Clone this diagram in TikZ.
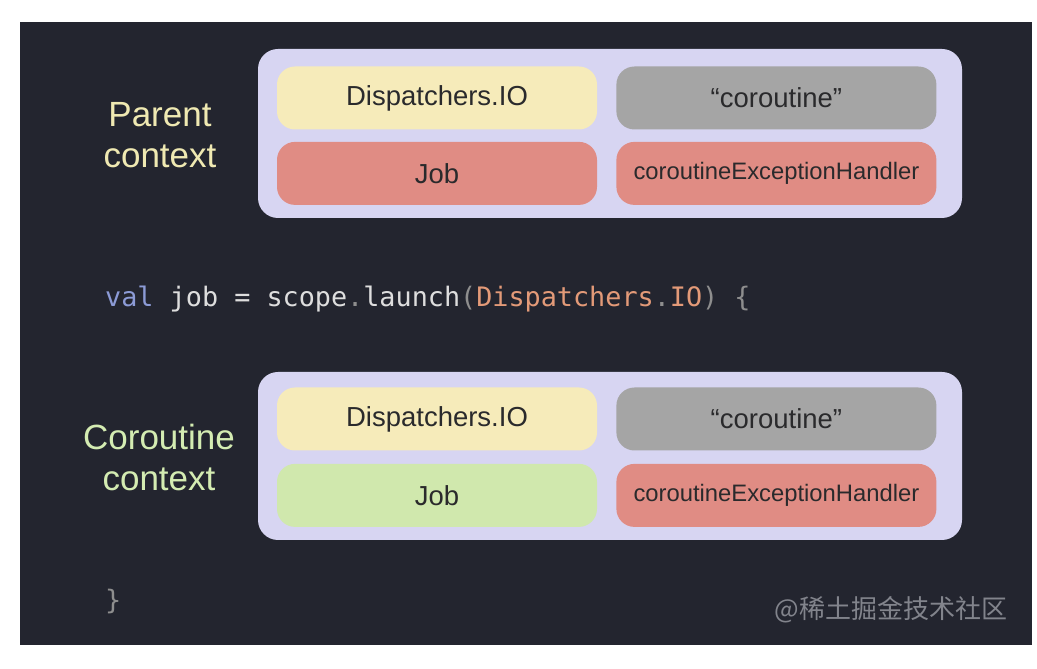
\documentclass[tikz,border=0pt]{standalone}
\usepackage{fontspec}
\setmainfont{Liberation Sans}
\setmonofont{DejaVu Sans Mono}
\newfontfamily\cjk{Noto Sans CJK SC}
\usepackage{xcolor}
\usetikzlibrary{positioning}
\definecolor{slidebg}{HTML}{23252F}
\definecolor{ctxback}{HTML}{D7D5F2}
\definecolor{ioyellow}{HTML}{F6EBBA}
\definecolor{namegray}{HTML}{A5A5A5}
\definecolor{jobred}{HTML}{E08C84}
\definecolor{jobgreen}{HTML}{D0E8AD}
\definecolor{boxtext}{HTML}{2A2A2C}
\definecolor{parentfg}{HTML}{EFE9B2}
\definecolor{childfg}{HTML}{D4ECB2}
\definecolor{kwblue}{HTML}{8C9BD6}
\definecolor{codefg}{HTML}{DEDEDE}
\definecolor{punct}{HTML}{8E8E8E}
\definecolor{argorange}{HTML}{E39A78}
\definecolor{markgray}{HTML}{82848C}

\begin{document}
\begin{tikzpicture}[
    x=1pt, y=1pt,
    ctxbox/.style={fill=ctxback, rounded corners=20pt, minimum width=704pt, minimum height=169pt, inner sep=0pt},
    slot/.style={rounded corners=18pt, minimum width=320pt, minimum height=63pt, inner sep=0pt, text=boxtext, font=\fontsize{27.5}{30}\selectfont},
    smallslot/.style={slot, font=\fontsize{23.8}{28}\selectfont},
    ctxlabel/.style={align=center, font=\fontsize{35}{41}\selectfont},
    code/.style={anchor=base west, inner sep=0pt, text=codefg, font=\ttfamily\fontsize{26.8}{32}\selectfont}
]

% Background
\path[use as bounding box, fill=white] (0,0) rectangle (1037,669);
\fill[slidebg] (20,24) rectangle (1032,647);

% Parent context
\node[ctxlabel, text=parentfg] (parentlbl) at (160,534) {Parent\\context};
\node[ctxbox] (parentctx) at (610,535.5) {};
\node[slot, fill=ioyellow] (pio) at (437,571) {Dispatchers.IO};
\node[slot, fill=namegray, right=19pt of pio] (pname) {“coroutine”};
\node[slot, fill=jobred, below=12pt of pio] (pjob) {Job};
\node[smallslot, fill=jobred, below=12pt of pname] (phandler) {coroutineExceptionHandler};

% Launch call
\node[code] (launch) at (105,362) {\textcolor{kwblue}{val} job = scope\textcolor{punct}{.}launch\textcolor{punct}{(}\textcolor{argorange}{Dispatchers}\textcolor{punct}{.}\textcolor{argorange}{IO}\textcolor{punct}{) \{}};

% Coroutine context
\node[ctxlabel, text=childfg] (childlbl) at (159,212) {Coroutine\\context};
\node[ctxbox, minimum height=168pt] (childctx) at (610,213) {};
\node[slot, fill=ioyellow] (cio) at (437,250) {Dispatchers.IO};
\node[slot, fill=namegray, right=19pt of cio] (cname) {“coroutine”};
\node[slot, fill=jobgreen, below=13pt of cio] (cjob) {Job};
\node[smallslot, fill=jobred, below=13pt of cname] (chandler) {coroutineExceptionHandler};

% Closing brace and watermark
\node[code, text=punct] (closing) at (105,59) {\}};
\node[text=markgray, font=\cjk\fontsize{26}{30}\selectfont] (mark) at (891,59) {@稀土掘金技术社区};

\end{tikzpicture}
\end{document}
